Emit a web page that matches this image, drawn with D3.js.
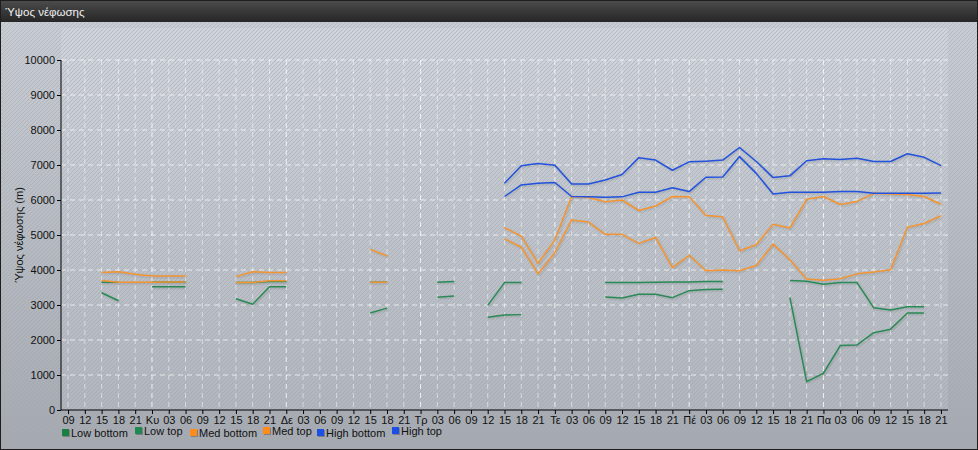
<!DOCTYPE html>
<html><head><meta charset="utf-8">
<script src="https://cdn.jsdelivr.net/npm/d3@7"></script>
<style>
body{margin:0;padding:0;background:#fff;}
svg{display:block;font-family:"Liberation Sans",Arial,sans-serif;}
</style></head>
<body>
<div id="chart"></div>
<script>
const title = "Ύψος νέφωσης";
const yTitle = "Ύψος νέφωσης (m)";
const xLabels = ["09","12","15","18","21",
 "Κυ","03","06","09","12","15","18","21",
 "Δε","03","06","09","12","15","18","21",
 "Τρ","03","06","09","12","15","18","21",
 "Τε","03","06","09","12","15","18","21",
 "Πέ","03","06","09","12","15","18","21",
 "Πα","03","06","09","12","15","18","21"];
const yTicks = [0,1000,2000,3000,4000,5000,6000,7000,8000,9000,10000];
const seriesNames = ["Low bottom","Low top","Med bottom","Med top","High bottom","High top"];
const seriesColors = ["#2a8a55","#2a8a55","#f39431","#f39431","#2452dc","#2452dc"];
const _ = null;
const lowBottom = [_,_,3350,3120,_,3520,3520,3520,_,_,3180,3020,3520,3520,_,_,_,_,2770,2910,_,_,3220,3260,_,2650,2715,2725,_,_,_,_,3230,3200,3310,3310,3210,3410,3440,3450,_,_,_,3220,810,1050,1840,1860,2210,2310,2770,2770,_];
const lowTop = [_,_,3650,3650,_,3650,3660,3660,_,_,3640,3640,3670,3670,_,_,_,_,3650,3650,_,_,3650,3670,_,2990,3640,3640,_,_,_,_,3640,3640,3645,3650,3655,3660,3670,3670,_,_,_,3700,3680,3590,3640,3640,2920,2860,2950,2950,_];
const medBottom = [_,_,3700,3650,3650,3650,3660,3660,_,_,3640,3640,3690,3690,_,_,_,_,3650,3650,_,_,_,_,_,_,4890,4650,3890,4500,5430,5370,5020,5020,4760,4930,4070,4420,3980,4000,3980,4130,4740,4290,3740,3710,3750,3890,3940,4010,5220,5330,5550];
const medTop = [_,_,3930,3950,3880,3830,3830,3830,_,_,3810,3950,3930,3930,_,_,_,_,4590,4400,_,_,_,_,_,_,5210,4970,4190,4860,6100,6070,5950,6000,5700,5830,6100,6090,5560,5520,4550,4720,5310,5200,6020,6100,5870,5960,6190,6170,6160,6100,5880];
const highBottom = [_,_,_,_,_,_,_,_,_,_,_,_,_,_,_,_,_,_,_,_,_,_,_,_,_,_,6100,6430,6480,6500,6100,6090,6080,6090,6220,6220,6350,6240,6650,6660,7240,6760,6170,6220,6220,6220,6240,6240,6190,6190,6190,6190,6200];
const highTop = [_,_,_,_,_,_,_,_,_,_,_,_,_,_,_,_,_,_,_,_,_,_,_,_,_,_,6480,6980,7040,6990,6460,6460,6570,6730,7210,7140,6850,7090,7110,7140,7500,7100,6640,6690,7120,7180,7160,7190,7100,7100,7320,7220,6980];
const seriesData = [lowBottom,lowTop,medBottom,medTop,highBottom,highTop];

const W = 978, H = 450;
const plot = {l:61, r:948, t:60, b:410};
const FONT = "'Liberation Sans',Arial,sans-serif";

const svg = d3.select("#chart").append("svg").attr("width",W).attr("height",H);
const defs = svg.append("defs");

const pg = defs.append("linearGradient").attr("id","panelGrad").attr("x1",0).attr("y1",0).attr("x2",0).attr("y2",1);
pg.append("stop").attr("offset","0%").attr("stop-color","#c9cdd1");
pg.append("stop").attr("offset","100%").attr("stop-color","#a6aaae");
const tg = defs.append("linearGradient").attr("id","titleGrad").attr("x1",0).attr("y1",0).attr("x2",0).attr("y2",1);
tg.append("stop").attr("offset","0%").attr("stop-color","#4b4b4b");
tg.append("stop").attr("offset","100%").attr("stop-color","#262626");
const plg = defs.append("linearGradient").attr("id","plotGrad").attr("x1",0).attr("y1",0).attr("x2",0).attr("y2",1);
plg.append("stop").attr("offset","0%").attr("stop-color","#d4d7db");
plg.append("stop").attr("offset","100%").attr("stop-color","#b6babe");

const hatch = defs.append("pattern").attr("id","hatch").attr("patternUnits","userSpaceOnUse")
  .attr("width",4).attr("height",4);
hatch.append("path").attr("d","M-1,1 l2,-2 M0,4 l4,-4 M3,5 l2,-2")
  .attr("stroke","rgba(150,165,190,0.45)").attr("stroke-width",1);

const shadow = defs.append("filter").attr("id","shadow").attr("x","-5%").attr("y","-5%").attr("width","110%").attr("height","120%");
shadow.append("feGaussianBlur").attr("in","SourceAlpha").attr("stdDeviation",0.9).attr("result","b");
shadow.append("feOffset").attr("in","b").attr("dx",1).attr("dy",1).attr("result","o");
shadow.append("feComponentTransfer").attr("in","o").attr("result","o2")
  .append("feFuncA").attr("type","linear").attr("slope",0.18);
const fm = shadow.append("feMerge");
fm.append("feMergeNode").attr("in","o2");
fm.append("feMergeNode").attr("in","SourceGraphic");

// frame
svg.append("rect").attr("x",0).attr("y",0).attr("width",W).attr("height",H).attr("fill","#1e1e1e");
svg.append("rect").attr("x",1).attr("y",22).attr("width",W-2).attr("height",H-23).attr("fill","url(#panelGrad)");
svg.append("rect").attr("x",1).attr("y",22).attr("width",W-2).attr("height",H-23).attr("fill","url(#hatch)");
svg.append("rect").attr("x",1).attr("y",1).attr("width",W-2).attr("height",21).attr("fill","url(#titleGrad)");
svg.append("text").attr("x",5).attr("y",16).attr("fill","#f0f0f0").attr("font-size",11.5).text(title);

// plot background
svg.append("rect").attr("x",plot.l).attr("y",28).attr("width",plot.r-plot.l).attr("height",plot.b-28)
  .attr("fill","url(#plotGrad)").attr("opacity",0.7);
svg.append("rect").attr("x",plot.l).attr("y",28).attr("width",plot.r-plot.l).attr("height",plot.b-28)
  .attr("fill","url(#hatch)");

const x = d3.scalePoint().domain(d3.range(xLabels.length)).range([plot.l, plot.r]).padding(0.42);
const y = d3.scaleLinear().domain([0,10000]).range([plot.b, plot.t]);

// grid
const grid = svg.append("g");
grid.selectAll("line.h").data(yTicks.filter(d=>d>0)).join("line")
  .attr("x1",plot.l).attr("x2",plot.r).attr("y1",d=>y(d)).attr("y2",d=>y(d))
  .attr("stroke","rgba(255,255,255,0.7)").attr("stroke-dasharray","5,4").attr("stroke-width",1);
grid.selectAll("line.v").data(d3.range(xLabels.length)).join("line")
  .attr("x1",d=>x(d)).attr("x2",d=>x(d)).attr("y1",plot.t).attr("y2",plot.b)
  .attr("stroke",(d)=>/^\d/.test(xLabels[d])?"rgba(255,255,255,0.5)":"rgba(255,255,255,0.8)")
  .attr("stroke-dasharray","5,4").attr("stroke-width",1);

// axes
const yAxis = svg.append("g").attr("transform",`translate(${plot.l},0)`)
  .call(d3.axisLeft(y).tickValues(yTicks).tickSize(4).tickPadding(2).tickFormat(d3.format("d")));
yAxis.select(".domain").attr("stroke","#000").attr("d",`M0,${plot.t}V${plot.b}`);
yAxis.selectAll("text").attr("font-size",11).attr("fill","#111").attr("font-family",FONT);

const xAxis = svg.append("g").attr("transform",`translate(0,${plot.b})`)
  .call(d3.axisBottom(x).tickSize(4).tickPadding(2).tickFormat(i=>xLabels[i]));
xAxis.select(".domain").attr("stroke","#000").attr("d",`M${plot.l},0H${plot.r}`);
xAxis.selectAll("text").attr("font-size",11).attr("fill","#111").attr("font-family",FONT);

svg.append("text").attr("transform",`translate(23,${(plot.t+plot.b)/2}) rotate(-90)`)
  .attr("text-anchor","middle").attr("font-size",11).attr("fill","#111").text(yTitle);

// lines
const line = d3.line().defined(d=>d!=null).x((d,i)=>x(i)).y(d=>y(d));
const lg = svg.append("g").attr("filter","url(#shadow)");
seriesData.forEach((arr,k)=>{
  lg.append("path").datum(arr).attr("d",line).attr("fill","none")
    .attr("stroke",seriesColors[k]).attr("stroke-width",1.5).attr("stroke-linejoin","round");
});

// legend
const legendX = [62,135,190,263,317,392];
const legColors = ["#1a8042","#1f8a4f","#ff8c1a","#ff8c1a","#1c4fe6","#1c4fe6"];
const leg = svg.append("g");
seriesNames.forEach((n,k)=>{
  const g = leg.append("g").attr("transform",`translate(${legendX[k]},${k%2?431:433})`);
  g.append("rect").attr("x",1).attr("y",-3).attr("width",7).attr("height",7).attr("fill","rgba(0,0,0,0.25)");
  g.append("rect").attr("x",0).attr("y",-4).attr("width",7).attr("height",7).attr("fill",legColors[k]);
  g.append("text").attr("x",9).attr("y",4).attr("font-size",11).attr("fill","#111").attr("font-family",FONT).text(n);
});
</script>
</body></html>
